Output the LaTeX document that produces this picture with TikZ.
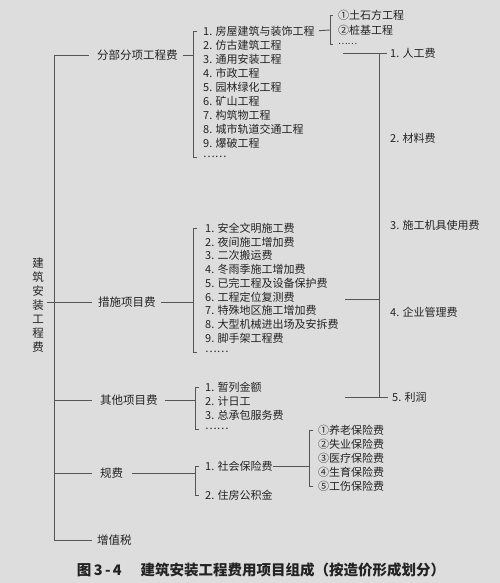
\documentclass[tikz,border=0pt]{standalone}
\usepackage{fontspec}
\setmainfont{Noto Sans CJK SC}
\definecolor{bg}{RGB}{221,221,221}
\definecolor{txt}{RGB}{35,35,35}
\definecolor{lnc}{RGB}{85,85,85}
\begin{document}
\begin{tikzpicture}[x=1pt,y=-1pt,
  every node/.style={inner sep=0pt, text=txt, font=\fontsize{11}{13}\selectfont},
  ln/.style={draw=lnc, line width=0.9pt},
  item/.style={anchor=west},
  lvl/.style={anchor=west, font=\fontsize{11.5}{13}\selectfont}]
\fill[bg] (0,0) rectangle (500,583);
\useasboundingbox (0,0) rectangle (500,583);

% root
\node[align=center, font=\fontsize{11.5}{14}\selectfont] (root) at (38,305) {建\\筑\\安\\装\\工\\程\\费};

% trunk coordinates
\coordinate (t1) at (54,55);
\coordinate (t2) at (54,302);
\coordinate (t3) at (54,400);
\coordinate (t4) at (54,473);
\coordinate (t5) at (54,540);
\draw[ln] (t1) -- (t5);
\draw[ln, shorten <=3pt] (root.east |- t2) -- (t2);

% level 1
\node[lvl] (fb) at (97,55) {分部分项工程费};
\node[lvl] (cs) at (98,302) {措施项目费};
\node[lvl] (qt) at (100,400) {其他项目费};
\node[lvl] (gf) at (100,473) {规费};
\node[lvl] (zz) at (97,540) {增值税};
\draw[ln, shorten >=8pt] (t1) -- (fb.west);
\draw[ln, shorten >=6pt] (t2) -- (cs.west);
\draw[ln, shorten >=8pt] (t3) -- (qt.west);
\draw[ln, shorten >=8pt] (t4) -- (gf.west);
\draw[ln, shorten >=5pt] (t5) -- (zz.west);

% group A
\foreach \t [count=\i] in {1. 房屋建筑与装饰工程,2. 仿古建筑工程,3. 通用安装工程,4. 市政工程,5. 园林绿化工程,6. 矿山工程,7. 构筑物工程,8. 城市轨道交通工程,9. 爆破工程,……}
  \node[item] (a\i) at (203,{31+14*(\i-1)}) {\t};
\coordinate (bA) at (193,55);
\draw[ln, shorten <=5pt] (fb.east) -- (bA);
\draw[ln] ([xshift=-6pt]a1.west) -- ([xshift=-10pt]a1.west) -- ([xshift=-10pt]a10.west) -- ([xshift=-6pt]a10.west);

% sub group F
\node[item] (f1) at (338,15) {①土石方工程};
\node[item] (f2) at (338,30) {②桩基工程};
\node[item, font=\fontsize{9}{10}\selectfont] (f3) at (338,44) {……};
\coordinate (bF) at (330,30);
\draw[ln, shorten <=4pt] (a1.east) -- (bF);
\draw[ln] ([xshift=-5pt]f1.west) -- ([xshift=-8pt]f1.west) -- ([xshift=-8pt]f3.west) -- ([xshift=-5pt]f3.west);

% group B
\foreach \t [count=\i] in {1. 安全文明施工费,2. 夜间施工增加费,3. 二次搬运费,4. 冬雨季施工增加费,5. 已完工程及设备保护费,6. 工程定位复测费,7. 特殊地区施工增加费,8. 大型机械进出场及安拆费,9. 脚手架工程费,……}
  \node[item] (b\i) at (205,{228+13.8*(\i-1)}) {\t};
\coordinate (bB) at (193,302);
\draw[ln, shorten <=5pt] (cs.east) -- (bB);
\draw[ln] ([xshift=-8pt]b1.west) -- ([xshift=-12pt]b1.west) -- ([xshift=-12pt]b10.west) -- ([xshift=-8pt]b10.west);

% group C
\foreach \t [count=\i] in {1. 暂列金额,2. 计日工,3. 总承包服务费,……}
  \node[item] (c\i) at (205,{387+14*(\i-1)}) {\t};
\coordinate (bC) at (195,400);
\draw[ln, shorten <=7pt] (qt.east) -- (bC);
\draw[ln] ([xshift=-6pt]c1.west) -- ([xshift=-10pt]c1.west) -- ([xshift=-10pt]c4.west) -- ([xshift=-6pt]c4.west);

% group D
\node[item] (d1) at (205,466) {1. 社会保险费};
\node[item] (d2) at (205,495) {2. 住房公积金};
\coordinate (bD) at (195,473);
\draw[ln, shorten <=9pt] (gf.east) -- (bD);
\draw[ln] ([xshift=-6pt]d1.west) -- ([xshift=-10pt]d1.west) -- ([xshift=-10pt]d2.west) -- ([xshift=-6pt]d2.west);

% group E
\foreach \t [count=\i] in {①养老保险费,②失业保险费,③医疗保险费,④生育保险费,⑤工伤保险费}
  \node[item] (e\i) at (318,{430+14.2*(\i-1)}) {\t};
\coordinate (bE) at (309,466);
\draw[ln] (d1.east) -- (bE);
\draw[ln] ([xshift=-5pt]e1.west) -- ([xshift=-9pt]e1.west) -- ([xshift=-9pt]e5.west) -- ([xshift=-5pt]e5.west);

% right column
\node[item] (r1) at (390,53) {1. 人工费};
\node[item] (r2) at (390,138) {2. 材料费};
\node[item] (r3) at (390,225) {3. 施工机具使用费};
\node[item] (r4) at (390,312) {4. 企业管理费};
\node[item] (r5) at (392,397) {5. 利润};
\coordinate (s1) at (379,53);
\coordinate (s5) at (379,397);
\coordinate (h1) at (343,53);
\coordinate (h4) at (345,299);
\coordinate (h5) at (345,397);
\draw[ln] (s1) -- (s5);
\draw[ln, shorten >=3pt] (h1) -- (r1.west);
\draw[ln] (h4) -- (h4 -| s1);
\draw[ln, shorten >=4pt] (h5) -- (r5.west);

% caption
\node[font=\fontsize{14.5}{16}\bfseries] (cap) at (261,570) {图\,3\,-\,4\hspace{1.3em}建筑安装工程费用项目组成（按造价形成划分）};
\end{tikzpicture}
\end{document}
